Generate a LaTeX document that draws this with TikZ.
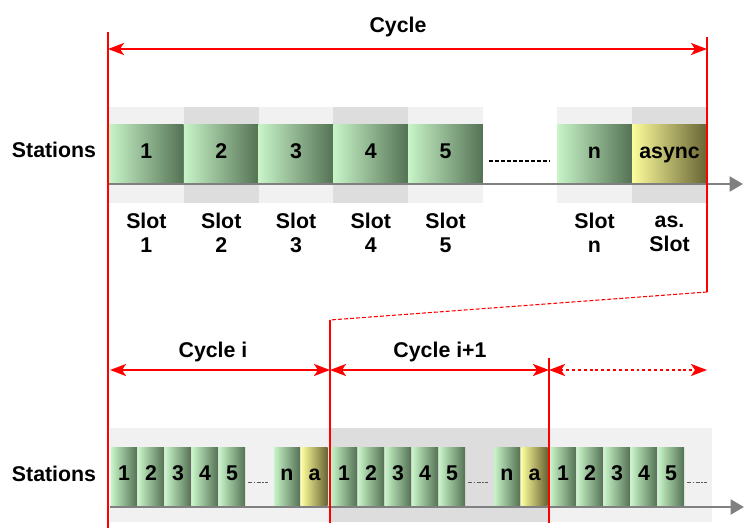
\documentclass[tikz,border=0pt]{standalone}
\usepackage{fontspec}
\setmainfont{Liberation Sans}
\usetikzlibrary{arrows.meta,calc,positioning}
\definecolor{slotlight}{RGB}{200,244,200}
\definecolor{slotmid}{RGB}{168,206,168}
\definecolor{slotdark}{RGB}{84,114,84}
\definecolor{asynclight}{RGB}{252,252,155}
\definecolor{asyncmid}{RGB}{222,220,125}
\definecolor{asyncdark}{RGB}{104,100,52}
\definecolor{bandlight}{RGB}{241,241,241}
\definecolor{banddark}{RGB}{221,221,221}
\begin{document}
\begin{tikzpicture}[x=0.75pt,y=-0.75pt,
    lbl/.style={font=\fontsize{16}{18}\selectfont\bfseries, inner sep=0pt},
    slot/.style={lbl, left color=slotlight, middle color=slotmid, right color=slotdark, minimum height=43.5pt, text height=11pt, text depth=4pt},
    asyncslot/.style={slot, left color=asynclight, middle color=asyncmid, right color=asyncdark},
    big/.style={minimum width=55.9pt},
    small/.style={minimum width=19.5pt},
    redline/.style={red, line width=1.8pt},
    cycarrow/.style={red, line width=1.6pt, {Stealth[length=12pt,width=9pt,inset=3pt]}-{Stealth[length=12pt,width=9pt,inset=3pt]}},
    axis/.style={gray, line width=2.2pt, -{Triangle[length=10pt,width=11pt]}}]
    \useasboundingbox (0,0) rectangle (745,531);
    % upper time line
    \foreach \x/\col in {109/bandlight,183.8/banddark,258.6/bandlight,333.4/banddark,408.2/bandlight,557/bandlight,632/banddark}
        \fill[\col] (\x,107) rectangle ++(74.8,96);
    \foreach \i in {1,...,5}
        \node[slot,big] (ts\i) at ({146.4+(\i-1)*74.8},154) {\i};
    \node[slot,big] (tsn) at (594.5,154) {n};
    \node[asyncslot,big,right=0pt of tsn] (tsa) {async};
    \draw[dash pattern=on 3pt off 1.5pt, line width=0.8pt] ($(ts5.east)+(6,7)$) -- ($(tsn.west)+(-7,7)$);
    \foreach \i in {1,...,5}
        \node[lbl,align=center,below=22pt of ts\i] {Slot\\\i};
    \node[lbl,align=center,below=22pt of tsn] {Slot\\n};
    \node[lbl,align=center,below=22pt of tsa] {\vphantom{S}as.\\Slot};
    \coordinate (ta0) at (109,184);
    \coordinate (ta1) at (743,184);
    \draw[axis] (ta0) -- (ta1);
    \node[lbl] (st1) at (54,150) {Stations};
    % lower time line
    \fill[bandlight] (110,428) rectangle (330,522);
    \fill[banddark] (330,428) rectangle (549,522);
    \fill[bandlight] (549,428) rectangle (712,522);
    \foreach \cy/\x in {1/111,2/331,3/550} {
        \foreach \j in {1,...,5}
            \node[slot,small] (c\cy b\j) at ({\x+13+(\j-1)*27},476) {\j};
        \draw[gray!70!black, line width=0.6pt, dash pattern=on 3pt off 1.2pt on 1pt off 1.2pt] ($(c\cy b5.east)+(3,6)$) -- ++(20,0);
    }
    \foreach \cy/\x in {1/111,2/331} {
        \node[slot,small] (c\cy n) at (\x+176,476) {n};
        \node[asyncslot,small,right=0.75pt of c\cy n] (c\cy a) {a};
    }
    \coordinate (ba0) at (110,507);
    \coordinate (ba1) at (744,507);
    \draw[axis] (ba0) -- (ba1);
    \node[lbl] (st2) at (54,474) {Stations};
    % cycle marks
    \coordinate (l0) at (108,32);
    \coordinate (l1) at (108,528);
    \coordinate (r0) at (707,37);
    \coordinate (r1) at (707,292);
    \coordinate (m0) at (330,320);
    \coordinate (m1) at (330,523);
    \coordinate (q0) at (549,358);
    \coordinate (q1) at (549,523);
    \draw[redline] (l0) -- (l1);
    \draw[redline] (r0) -- (r1);
    \draw[redline] (m0) -- (m1);
    \draw[redline] (q0) -- (q1);
    \draw[red, line width=0.8pt, dash pattern=on 3pt off 1.5pt] (r1) -- (m0);
    \coordinate (ca0) at (108,49);
    \coordinate (ca1) at (707,49);
    \draw[cycarrow] (ca0) -- (ca1);
    \node[lbl] (cyc) at (398,27) {Cycle};
    \coordinate (a0) at (110,370);
    \coordinate (a1) at (330,370);
    \coordinate (a2) at (549,370);
    \coordinate (a3) at (707,370);
    \draw[cycarrow] (a0) -- (a1);
    \draw[cycarrow] (a1) -- (a2);
    \draw[cycarrow, dash pattern=on 2.2pt off 2.2pt] (a2) -- (a3);
    \node[lbl] (cyi) at (213,352) {Cycle i};
    \node[lbl] (cyj) at (440,352) {Cycle i+1};
\end{tikzpicture}
\end{document}
